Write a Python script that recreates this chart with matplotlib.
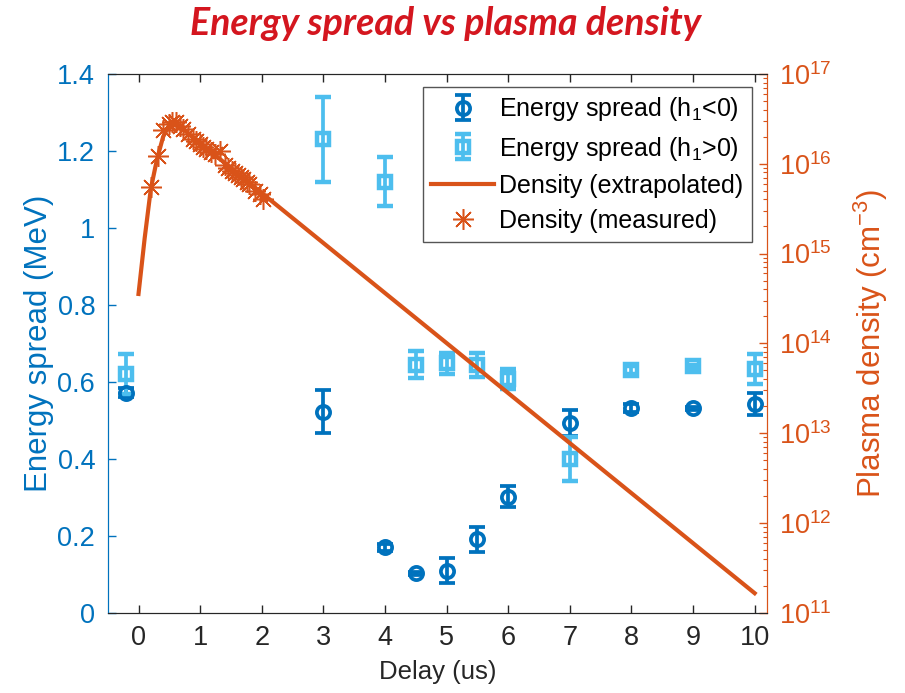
import numpy as np
import matplotlib
matplotlib.use("Agg")
from matplotlib import pyplot as plt
from matplotlib.ticker import FormatStrFormatter, LogLocator, NullFormatter

plt.rcParams['font.family'] = ['Liberation Sans', 'DejaVu Sans']
plt.rcParams['mathtext.fontset'] = 'custom'
plt.rcParams['mathtext.rm'] = 'Liberation Sans'
plt.rcParams['mathtext.it'] = 'Liberation Sans:italic'

# energy spread, h1 < 0
delay_neg = [-0.2, 3, 4, 4.5, 5, 5.5, 6, 7, 8, 9, 10]
spread_neg = [0.572, 0.523, 0.170, 0.103, 0.110, 0.191, 0.302, 0.493, 0.532, 0.532, 0.543]
err_neg = [0.012, 0.057, 0.010, 0.004, 0.033, 0.033, 0.027, 0.034, 0.010, 0.004, 0.029]

# energy spread, h1 > 0
delay_pos = [-0.2, 3, 4, 4.5, 5, 5.5, 6, 7, 8, 9, 10]
spread_pos = [0.621, 1.230, 1.120, 0.645, 0.648, 0.645, 0.608, 0.400, 0.631, 0.641, 0.633]
err_pos = [0.052, 0.110, 0.064, 0.035, 0.027, 0.031, 0.026, 0.057, 0.010, 0.004, 0.039]

# plasma density (log10 cm^-3)
delay_fit = [0.0, 0.1, 0.2, 0.3, 0.4, 0.5, 0.57, 10.0]
logn_fit = [14.55, 15.17, 15.72, 16.05, 16.30, 16.43, 16.47, 11.22]

delay_meas = [0.21, 0.31, 0.40, 0.50, 0.55, 0.61, 0.67, 0.72, 0.80, 0.88, 0.94,
              0.99, 1.05, 1.10, 1.17, 1.24, 1.32, 1.40, 1.46, 1.51, 1.57, 1.61,
              1.66, 1.70, 1.76, 1.80, 1.89, 1.97, 2.02]
logn_meas = [15.74, 16.08, 16.37, 16.44, 16.46, 16.46, 16.42, 16.39, 16.33, 16.27, 16.25,
             16.22, 16.18, 16.16, 16.13, 16.11, 16.14, 15.98, 15.95, 15.92, 15.90, 15.87,
             15.85, 15.83, 15.80, 15.77, 15.70, 15.66, 15.61]

c_left = '#0072BD'
c_light = '#4DBEEE'
c_right = '#D95319'
c_ax = '#262626'

fig = plt.figure(figsize=(9.05, 6.93), dpi=100)
ax = fig.add_axes([0.119, 0.1155, 0.7285, 0.778])
ax2 = ax.twinx()

h1 = ax.errorbar(delay_neg, spread_neg, yerr=err_neg, fmt='o', color=c_left,
                 ms=9.5, mfc='none', mew=2.7, elinewidth=2.7, capsize=6, capthick=2.7)
h2 = ax.errorbar(delay_pos, spread_pos, yerr=err_pos, fmt='s', color=c_light,
                 ms=8.5, mfc='none', mew=3.2, elinewidth=2.7, capsize=6, capthick=2.7)

h3, = ax2.plot(delay_fit, 10 ** np.array(logn_fit), color=c_right, lw=3)
h4, = ax2.plot(delay_meas, 10 ** np.array(logn_meas), ls='none', marker=(8, 2, 0),
               ms=15, mew=1.1, color=c_right)

ax.set_xlim(-0.5, 10.2)
ax.set_ylim(0, 1.4)
ax.set_xticks(range(0, 11))
ax.set_yticks(np.arange(0, 1.41, 0.2))
ax.yaxis.set_major_formatter(FormatStrFormatter('%g'))

ax2.set_yscale('log')
ax2.set_ylim(1e11, 1e17)
ax2.yaxis.set_major_locator(LogLocator(base=10, numticks=10))
ax2.yaxis.set_minor_locator(LogLocator(base=10, subs=np.arange(2, 10), numticks=20))
ax2.yaxis.set_minor_formatter(NullFormatter())

# no offset labels on either axes
for a in (ax, ax2):
    a.xaxis.get_offset_text().set_visible(False)
    a.yaxis.get_offset_text().set_visible(False)

ax.tick_params(axis='x', direction='in', length=6, width=1, labelsize=19.5,
               colors=c_ax, top=True, pad=9)
ax.tick_params(axis='y', direction='in', length=6, width=1, labelsize=19.5,
               colors=c_left, pad=9)
ax2.tick_params(axis='y', which='major', direction='in', length=6, width=1,
                labelsize=19.5, colors=c_right, pad=9)
ax2.tick_params(axis='y', which='minor', direction='in', length=3, width=0.8,
                colors=c_right)

for a in (ax, ax2):
    a.spines['top'].set_color(c_ax)
    a.spines['bottom'].set_color(c_ax)
    a.spines['left'].set_color(c_left)
    a.spines['right'].set_color(c_right)

ax.set_xlabel('Delay (us)', fontsize=18.5, color=c_ax, labelpad=6)
ax.set_ylabel('Energy spread (MeV)', fontsize=22.5, color=c_left, labelpad=2)
ax2.set_ylabel('Plasma density (cm$^{-3}$)', fontsize=22.5, color=c_right, labelpad=14)

leg = ax2.legend([h1, h2, h3, h4],
                 ['Energy spread (h$_1$<0)', 'Energy spread (h$_1$>0)',
                  'Density (extrapolated)', 'Density (measured)'],
                 loc='upper right', bbox_to_anchor=(0.977, 0.976), borderaxespad=0,
                 fontsize=18, fancybox=False, framealpha=1, edgecolor='#555555',
                 handlelength=2.5, handletextpad=0.2, labelspacing=0.45,
                 borderpad=0.35)
leg.get_frame().set_linewidth(1.0)

fig.text(0.492, 0.966, 'Energy spread vs plasma density', ha='center', va='center',
         fontsize=27, fontweight='bold', fontstyle='italic', color='#D4161F',
         family=['Lato', 'DejaVu Sans'])

fig.savefig('out.png', dpi=100)
